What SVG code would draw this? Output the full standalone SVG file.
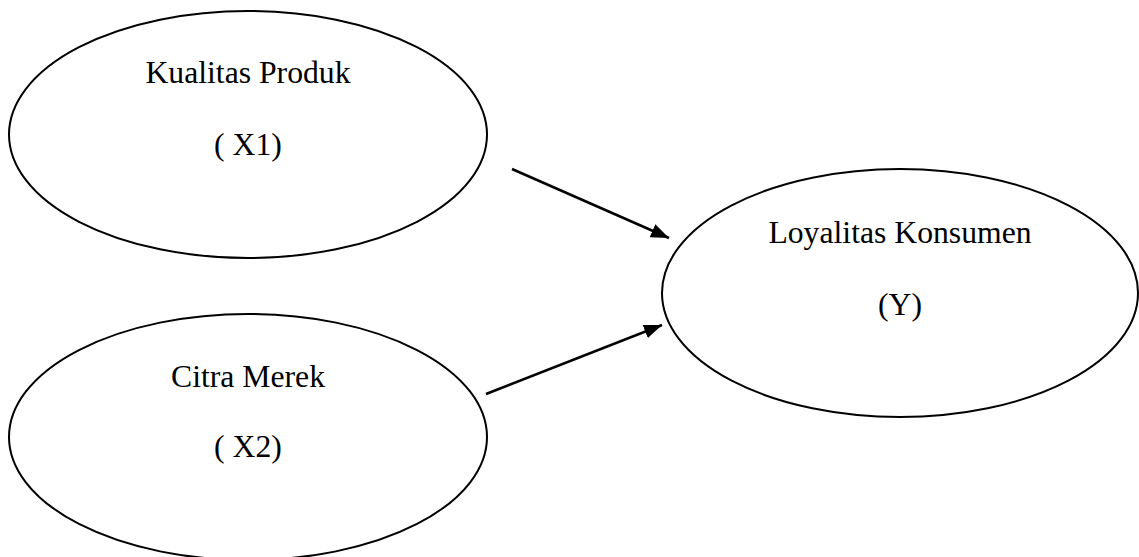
<svg xmlns="http://www.w3.org/2000/svg" width="1139" height="557" viewBox="0 0 1139 557">
<style>
.node ellipse{fill:#fff;stroke:#000;stroke-width:2}
.node text{font-family:"Liberation Serif","Times New Roman",serif;font-size:31.7px;fill:#000;text-anchor:middle}
.edge{stroke:#000;stroke-width:2.5;fill:none;marker-end:url(#arrow)}
</style>
<defs>
<marker id="arrow" markerUnits="userSpaceOnUse" markerWidth="20" markerHeight="14" refX="18" refY="7" orient="auto">
<path d="M0,0 L18,7 L0,14 Z" fill="#000"/>
</marker>
</defs>
<rect width="1139" height="557" fill="#fff"/>
<g id="x1" class="node">
<ellipse cx="248" cy="134.5" rx="239" ry="123.5"/>
<text x="248" y="83">Kualitas Produk</text>
<text x="248" y="155">( X1)</text>
</g>
<g id="x2" class="node">
<ellipse cx="248" cy="437" rx="239" ry="123"/>
<text x="248" y="387">Citra Merek</text>
<text x="248" y="457">( X2)</text>
</g>
<g id="y" class="node">
<ellipse cx="900" cy="293" rx="238" ry="124"/>
<text x="900" y="243">Loyalitas Konsumen</text>
<text x="900" y="315">(Y)</text>
</g>
<g id="connectors">
<line class="edge" x1="512" y1="169" x2="669" y2="238"/>
<line class="edge" x1="486" y1="394" x2="662" y2="325"/>
</g>
</svg>
